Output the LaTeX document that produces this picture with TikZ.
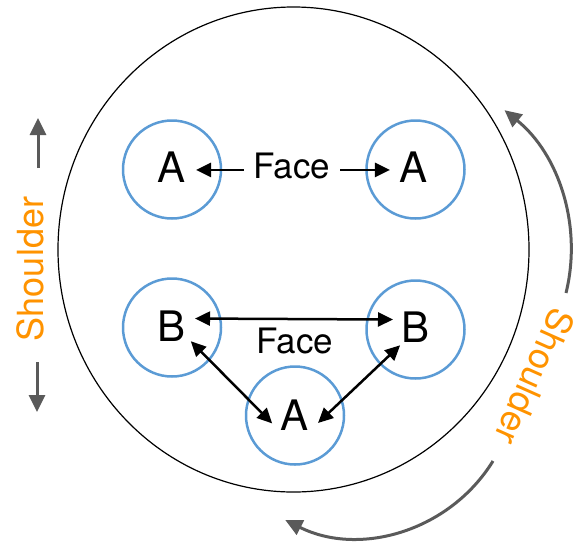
\documentclass[tikz,border=0pt]{standalone}
\usepackage{fontspec}
\setmainfont{TeX Gyre Heros}
\usetikzlibrary{arrows.meta}
\definecolor{ringblue}{RGB}{91,155,213}
\definecolor{shorange}{RGB}{255,147,0}
\definecolor{arrgray}{RGB}{90,90,90}
\begin{document}
\begin{tikzpicture}[x=1pt,y=-1pt,
  ring/.style={circle, draw=ringblue, line width=2.5pt, minimum size=98pt, inner sep=0pt},
  letter/.style={circle, minimum size=48pt, inner sep=0pt, font=\fontsize{42}{42}\selectfont},
  facelbl/.style={inner xsep=10pt, inner ysep=2pt, font=\fontsize{35}{35}\selectfont},
  shlbl/.style={text=shorange, font=\fontsize{36}{36}\selectfont, inner sep=0pt},
  blk/.style={{Triangle[length=15pt,width=14pt]}-{Triangle[length=15pt,width=14pt]}, line width=2.5pt},
  blkone/.style={-{Triangle[length=15pt,width=14pt]}, line width=2.5pt},
  garr/.style={-{Triangle[length=17pt,width=16pt]}, line width=3pt, draw=arrgray}
]
\useasboundingbox (0,0) rectangle (578,542);
\draw[line width=1.2pt] (293.5,249.5) ellipse[x radius=235.5, y radius=242.5];

\node[ring] (a1) at (172,169.5) {};
\node[ring] (a2) at (415.5,169.5) {};
\node[ring] (b1) at (172,327.5) {};
\node[ring] (b2) at (415.5,329.5) {};
\node[ring] (a3) at (295,415.5) {};

\node[letter] (a1t) at (172,167) {A};
\node[letter] (a2t) at (414,167) {A};
\node[letter] (b1t) at (172,326) {B};
\node[letter] (b2t) at (416,327) {B};
\node[letter] (a3t) at (295,415.5) {A};

\node[facelbl] (ftop) at (292,166) {Face};
\node[facelbl] (fbot) at (295,341) {Face};

\draw[blkone] (ftop.west |- a1t.-7) -- (a1t.-7);
\draw[blkone] (ftop.east |- a2t.187) -- (a2t.187);
\draw[blk] (b1t.18) -- (b2t.162);
\draw[blk] (b1t.-39) -- (a3t.199);
\draw[blk] (b2t.229) -- (a3t.-18);

\node[shlbl, rotate=90] (lsh) at (30,269) {Shoulder};
\coordinate (lu1) at (38,168);
\coordinate (lu2) at (38,118);
\coordinate (ld1) at (37,362);
\coordinate (ld2) at (37,412);
\draw[garr] (lu1) -- (lu2);
\draw[garr] (ld1) -- (ld2);

\node[shlbl, rotate=-114] (rsh) at (535,377) {Shoulder};
\coordinate (ra1) at (566,293);
\draw[garr] (ra1) arc[start angle=13.8, end angle=-51, radius=180];
\coordinate (rb1) at (493,461);
\draw[garr] (rb1) arc[start angle=31.7, end angle=116.6, radius=160];
\end{tikzpicture}
\end{document}
